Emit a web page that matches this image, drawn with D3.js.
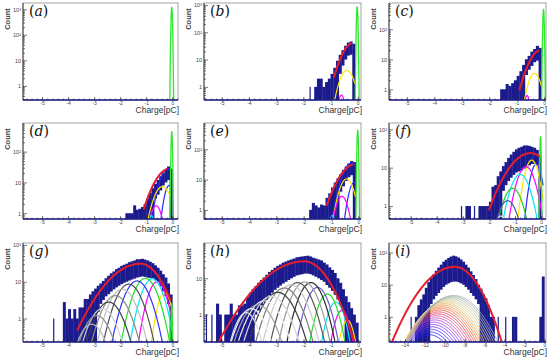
<!DOCTYPE html>
<html>
<head>
<meta charset="utf-8">
<script src="https://cdn.jsdelivr.net/npm/d3@7"></script>
<style>
  body { margin: 0; background: #fff; }
  svg { display: block; }
</style>
</head>
<body>
<div id="chart"></div>
<script>
// ---- data ----
const panelLetters = ["a", "b", "c", "d", "e", "f", "g", "h", "i"];

const xDomains = [[-5.73, 0.22], [-5.65, 0.12], [-5.65, 0.07], [-5.73, 0.22], [-5.65, 0.1],
                  [-5.83, 0.19], [-5.73, 0.22], [-5.64, 0.1], [-15.6, 0.17]];
const yDomains = [[0.28, 1760], [0.33, 1180], [0.44, 750], [0.65, 850], [0.5, 740],
                  [0.46, 146], [0.23, 113], [0.175, 94], [0.165, 198]];
const yLabelTicks = [[1, 10, 100, 1000], [1, 10, 100, 1000], [1, 10, 100], [1, 10, 100], [1, 10, 100],
                     [1, 10, 100], [1, 10, 100], [1, 10], [1, 10, 100]];
const xLabelTicks = [-5, -4, -3, -2, -1, 0];
const xLabelTicksWide = [-14, -12, -10, -8, -6, -4, -2, 0];

// histogram: first bin edge, bin width, upper / lower edge of the noisy band (counts)
const histStart = [0, -1.9, -1.7, -1.9, -1.9, -3.1, -4.7, -5.7, -13.5];
const binWidth = [0.1, 0.1, 0.1, 0.1, 0.1, 0.1, 0.1, 0.1, 0.25];

const hiA = [];
const loA = [];
const hiB = [0, 1, 0, 1, 2, 2, 1, 1.5, 2, 3, 5, 9, 15, 22, 32, 42, 46, 38];
const loB = [0, 0, 0, 0, 0, 0, 0, 0, 0, 0, 0, 0, 3, 6, 10, 14, 15, 0];
const hiC = [0, 1, 1, 1.5, 1.3, 1.6, 2, 2.8, 4, 6.5, 10, 13, 18, 22, 28, 24];
const loC = [0, 0, 0, 0, 0, 0, 0, 0, 0, 0, 3, 4.5, 6, 8, 9, 0];
const hiD = [0, 1, 1, 1, 1.8, 1.3, 1.4, 1.6, 2, 3, 4.5, 6.5, 9, 12, 16, 20, 26, 33, 28];
const loD = [0, 0, 0, 0, 0, 0, 0, 0, 0, 0, 0, 0, 3, 4, 5.5, 8, 10, 12, 0];
const hiE = [0, 1, 1.7, 1.4, 1.2, 1.5, 1.4, 2.5, 3.5, 5.5, 8, 11, 15, 21, 27, 34, 41, 38];
const loE = [0, 0, 0, 0, 0, 0, 0, 0, 0, 0, 0, 0, 4, 6, 9, 12, 14, 0];
const hiF = [1, 0, 1, 1, 0, 1, 0, 1, 1, 1, 1, 1.3, 3.2, 3.5, 6, 8, 11, 14, 18, 22, 26, 30, 33, 35, 38, 38,
             37, 35, 33, 29, 20];
const loF = [0, 0, 0, 0, 0, 0, 0, 0, 0, 0, 0, 0, 0, 0, 0, 0, 2.5, 3.5, 4.5, 5.5, 6.5, 7.5, 8, 8.5, 9.5,
             10.5, 11.5, 12.5, 12.5, 12, 0];
const hiG = [0, 1, 0, 0, 0, 2.8, 1, 1.8, 1, 1.8, 1, 2, 2, 3.4, 3.4, 4.5, 5.5, 6.5, 7.8, 9, 10.5, 12.5,
             14.5, 17, 19, 22, 24, 27, 29, 31, 34, 36, 38, 41, 41, 42, 40, 38, 35, 32, 28, 24, 20, 16, 13,
             9, 4.5];
const loG = [0, 0, 0, 0, 0, 0, 0, 0, 0, 0, 0, 0, 0, 0, 0, 0, 0, 0, 1.5, 2.5, 3.2, 4, 4.6, 5.4, 6.2, 7,
             7.8, 8.6, 9.4, 10, 10.8, 11.5, 12.2, 13, 13.5, 14, 13.5, 13, 12.5, 12.5, 11, 10, 7.5, 5.5,
             4, 2.5, 0];
const hiH = [0, 1, 0, 1, 0, 2, 1, 0, 1, 1, 2, 1, 1, 1.8, 1.8, 2, 3, 4, 5, 6, 7.5, 9, 10.5, 12.5, 15, 17,
             19.5, 22, 24, 27, 29, 31, 33, 35, 38, 39, 40, 41, 42, 40, 37, 35, 33, 31, 27, 24, 20, 17, 14,
             10, 7.5, 5, 3.2, 2.2, 1.5, 1, 0.6];
const loH = [0, 0, 0, 0, 0, 0, 0, 0, 0, 0, 0, 0, 0, 0, 0, 0, 0, 0, 0, 1, 1.3, 1.8, 2.2, 2.8, 3.4, 4, 4.8,
             5.5, 6.3, 7.2, 8, 9, 10, 11, 12, 12.5, 13, 13.5, 13.5, 13, 12, 11, 10, 9, 8, 6.5, 5.5, 4.5,
             3.5, 2.6, 1.8, 1.2, 0, 0, 0, 0, 0];
const hiI = [1, 0, 1, 2.3, 3.5, 5, 8, 12, 16, 21, 27, 34, 42, 52, 60, 68, 75, 80, 76, 70, 61, 52, 42, 34,
             26, 20, 15, 10, 7.5, 5, 3.8, 2.3, 1, 1, 0, 1, 0, 0, 1, 0, 0, 1, 1, 0, 0, 0, 0, 0, 0, 0, 0,
             0, 1, 18];
const loI = [0, 0, 0, 0, 0, 0, 0, 0, 2.5, 3.5, 4.5, 5.5, 7, 8.5, 10, 11, 12, 12.5, 12.5, 12, 11, 10, 8.5,
             7, 5.5, 4.5, 3.5, 2.5, 0, 0, 0, 0, 0, 0, 0, 0, 0, 0, 0, 0, 0, 0, 0, 0, 0, 0, 0, 0, 0, 0, 0,
             0, 0, 0];
const histHi = [hiA, hiB, hiC, hiD, hiE, hiF, hiG, hiH, hiI];
const histLo = [loA, loB, loC, loD, loE, loF, loG, loH, loI];

// pedestal peak (green) amplitude per panel
const pedAmp = [1200, 850, 460, 445, 430, 64, 2.5, 0, 0];
const pedMean = -0.02;
const pedSigma = 0.018;

// total fit (red): [amplitude, mean, sigma left, sigma right, from, to]
const redFits = [null,
  [41, -0.15, 0.30, 0.30, -0.88, -0.22],
  [20.6, -0.1, 0.32, 0.32, -0.9, -0.18],
  [28, -0.1, 0.405, 0.405, -1.1, -0.2],
  [32.6, -0.1, 0.42, 0.42, -1.16, -0.18],
  [24, -0.4, 0.61, 0.55, -2.0, -0.05],
  [31, -1.22, 0.84, 0.54, -3.65, -0.06],
  [29.4, -1.97, 0.98, 0.57, -5.15, -0.15],
  [36, -9.0, 1.92, 1.44, -15.4, -4.2]];

// n-photoelectron components: [mean, sigma, amplitude], drawn up to compEnd
const compEnd = [0, -0.1, -0.08, -0.07, -0.1, 0.08, 0.02, 0.02, 0.17];
const compA = [];
const compB = [[-0.4, 0.2, 4], [-0.6, 0.1, 0.5]];
const compC = [[-0.35, 0.18, 3.4], [-0.62, 0.08, 0.62]];
const compD = [[-0.18, 0.22, 28], [-0.12, 0.14, 8], [-0.38, 0.25, 7.3], [-0.62, 0.17, 1.75], [-0.8, 0.08, 0.85]];
const compE = [[-0.25, 0.24, 35], [-0.15, 0.15, 8], [-0.43, 0.2, 10.5], [-0.6, 0.17, 2.8], [-0.95, 0.1, 0.65]];
const compF = [[-0.19, 0.17, 12.2], [-0.36, 0.2, 15.8], [-0.58, 0.26, 10.6], [-0.8, 0.28, 6.7],
               [-1.09, 0.28, 2.9], [-1.28, 0.28, 1.38], [-1.54, 0.2, 0.55]];
const compG = [[-0.3, 0.2, 5], [-0.58, 0.26, 10], [-0.77, 0.3, 12], [-1.03, 0.33, 12.3], [-1.35, 0.35, 10.5],
               [-1.67, 0.36, 8.6], [-1.92, 0.37, 6.3], [-2.18, 0.38, 4.2], [-2.44, 0.38, 2.8],
               [-2.68, 0.37, 1.85], [-2.9, 0.37, 1.2], [-3.1, 0.36, 0.7]];
const compH = [[-0.4, 0.18, 0.7], [-0.6, 0.2, 1.3], [-0.82, 0.23, 2.2], [-1.13, 0.26, 3.7], [-1.49, 0.29, 5.6],
               [-1.73, 0.32, 7.6], [-1.97, 0.34, 7.9], [-2.22, 0.36, 7.6], [-2.46, 0.38, 6.6],
               [-2.7, 0.4, 5.4], [-2.94, 0.42, 4.1], [-3.18, 0.42, 3.2], [-3.43, 0.42, 2.4],
               [-3.67, 0.4, 1.86], [-3.91, 0.36, 1.45], [-4.1, 0.3, 1.13]];
const compI = [[-11.6, 1.45, 0.28], [-11.5, 1.47, 0.34], [-11.4, 1.49, 0.41], [-11.3, 1.51, 0.49],
               [-11.2, 1.53, 0.58], [-11.1, 1.55, 0.68], [-11.0, 1.57, 0.8], [-10.9, 1.58, 0.93],
               [-10.8, 1.6, 1.08], [-10.7, 1.61, 1.24], [-10.6, 1.62, 1.42], [-10.5, 1.63, 1.62],
               [-10.4, 1.64, 1.84], [-10.3, 1.65, 2.07], [-10.2, 1.66, 2.32], [-10.1, 1.67, 2.58],
               [-10.0, 1.68, 2.85], [-9.85, 1.69, 3.13], [-9.7, 1.7, 3.42], [-9.55, 1.7, 3.72],
               [-9.4, 1.71, 4.02], [-9.25, 1.71, 4.32], [-9.1, 1.72, 4.6]];
const components = [compA, compB, compC, compD, compE, compF, compG, compH, compI];

// ---- styles ----
const navy = "#1b1b8e";
const pedColor = "#2ee82e";
const redColor = "#e41e2c";
const colB = ["#ffe600", "#ff00ff"];
const colD = ["#2a2aff", "#2a2aff", "#ffe600", "#ff00ff", "#00e0ff"];
const colF = ["#2a2aff", "#ffe600", "#ff00ff", "#00e8ff", "#22cc22", "#5050a8", "#e8e8f0"];
const colG = ["#ffe600", "#ff00ff", "#00e8ff", "#22dd22", "#3030ff", "#505050", "#c0c0c0", "#8a8a8a",
              "#404040", "#d0d0d0", "#909090", "#b8b8b8"];
const colH = ["#ffe600", "#ff00ff", "#00e8ff", "#22dd22", "#6a5acd", "#2a2a2a", "#9a9a9a", "#555555",
              "#c8c8c8", "#7a7a7a", "#3a3a3a", "#d8d8d8", "#f0f0f0", "#a0a0a0", "#f4f4f4", "#e0e0e0"];
const colI = ["#2020ff", "#3a2aff", "#5530ff", "#7035ff", "#8a3cff", "#a040f0", "#b848d8", "#c850b8",
              "#d85098", "#e04878", "#e84858", "#ec5848", "#f07040", "#f08848", "#eca058", "#e8b468",
              "#e4c47c", "#dccc90", "#d0cca0", "#c4c8a8", "#b8c0ac", "#aab8b0", "#9cb0b4"];
const compColors = [[], colB, colB, colD, colD, colF, colG, colH, colI];

// panel geometry
const colLeft = [23, 204, 389];
const colRight = [178, 361, 546];
const rowTop = [3, 123, 243];
const rowBottom = [100, 219, 342];

const svg = d3.select("#chart").append("svg")
    .attr("width", 550)
    .attr("height", 361)
    .style("font-family", "'Liberation Sans', Arial, sans-serif");

const gauss = (v, c) => c[2] * Math.exp(-((v - c[0]) ** 2) / (2 * c[1] * c[1]));
const splitGauss = (v, p) => {
    const s = v < p[1] ? p[2] : p[3];
    return p[0] * Math.exp(-((v - p[1]) ** 2) / (2 * s * s));
};
const supers = { 1: "", 2: "\u00b2", 3: "\u00b3" };
const logLabel = d => d === 1 ? "1" : "10" + supers[Math.round(Math.log10(d))];

function drawPanel(k) {
    const col = k % 3, row = Math.floor(k / 3);
    const L = colLeft[col], R = colRight[col], T = rowTop[row], B = rowBottom[row];
    const [ymin, ymax] = yDomains[k];

    const x = d3.scaleLinear().domain(xDomains[k]).range([L, R]);
    const y = d3.scaleLog().domain(yDomains[k]).range([B, T]);
    const yv = v => y(Math.max(v, 1e-4));

    const g = svg.append("g");
    g.append("clipPath").attr("id", "clip" + k)
        .append("rect").attr("x", L).attr("y", T).attr("width", R - L).attr("height", B - T);
    const plot = g.append("g").attr("clip-path", `url(#clip${k})`);

    // histogram band; lone tail bins are drawn as thin spikes
    const bw = binWidth[k];
    const his = histHi[k];
    const bins = his.map((h, i) => ({
            x0: histStart[k] + i * bw, hi: h, lo: histLo[k][i],
            lone: !(his[i - 1] > 0) && !(his[i + 1] > 0)
        }))
        .filter(d => d.hi > ymin);
    plot.selectAll("rect.bin").data(bins).join("rect")
        .attr("class", "bin")
        .attr("x", d => d.lone ? x(d.x0 + bw / 2) - 0.6 : x(d.x0))
        .attr("width", d => d.lone ? 1.2 : x(d.x0 + bw) - x(d.x0) + 0.35)
        .attr("y", d => y(d.hi))
        .attr("height", d => (d.lo > ymin ? y(d.lo) : B) - y(d.hi))
        .attr("fill", navy);

    // components
    const [d0, d1] = xDomains[k];
    const samples = d3.range(d0, compEnd[k], (d1 - d0) / 700).concat([compEnd[k]]);
    components[k].forEach((c, j) => {
        plot.append("path")
            .datum(samples)
            .attr("d", d3.line().x(v => x(v)).y(v => yv(gauss(v, c))))
            .attr("fill", "none")
            .attr("stroke", compColors[k][j])
            .attr("stroke-width", k === 8 ? 1 : 1.2);
    });

    // pedestal
    if (pedAmp[k] > 0) {
        const pv = d3.range(-0.12, 0.08, 0.001);
        plot.append("path")
            .datum(pv)
            .attr("d", d3.line().x(v => x(v)).y(v => yv(gauss(v, [pedMean, pedSigma, pedAmp[k]]))))
            .attr("fill", "none")
            .attr("stroke", pedColor)
            .attr("stroke-width", 1.3);
    }

    // total fit
    const rf = redFits[k];
    if (rf) {
        const rv = d3.range(rf[4], rf[5], (rf[5] - rf[4]) / 300).concat([rf[5]]);
        plot.append("path")
            .datum(rv)
            .attr("d", d3.line().x(v => x(v)).y(v => yv(splitGauss(v, rf))))
            .attr("fill", "none")
            .attr("stroke", redColor)
            .attr("stroke-width", 2);
    }

    // frame
    g.append("rect").attr("x", L).attr("y", T).attr("width", R - L).attr("height", B - T)
        .attr("fill", "none").attr("stroke", "#666").attr("stroke-width", 0.6);
    g.append("line").attr("x1", L).attr("x2", L).attr("y1", T).attr("y2", B)
        .attr("stroke", "#222").attr("stroke-width", 0.8);
    g.append("line").attr("x1", L).attr("x2", R).attr("y1", B).attr("y2", B)
        .attr("stroke", navy).attr("stroke-width", 1.3);

    // y ticks (inside) and labels
    const lo = Math.floor(Math.log10(ymin)), hi = Math.ceil(Math.log10(ymax));
    const majors = [], minors = [];
    for (let e = lo; e <= hi; e++) {
        const b = Math.pow(10, e);
        if (b >= ymin && b <= ymax) majors.push(b);
        for (let m = 2; m <= 9; m++) if (m * b >= ymin && m * b <= ymax) minors.push(m * b);
    }
    const yTicks = (vals, size) => g.append("g")
        .attr("transform", `translate(${L},0)`)
        .call(d3.axisRight(y).tickValues(vals).tickSize(size).tickFormat(""))
        .call(a => a.select(".domain").remove())
        .call(a => a.selectAll("line").attr("stroke", "#222").attr("stroke-width", 0.6));
    yTicks(majors, 4);
    yTicks(minors, 2);
    g.append("g")
        .attr("transform", `translate(${L},0)`)
        .call(d3.axisLeft(y).tickValues(yLabelTicks[k]).tickSize(0).tickPadding(2).tickFormat(logLabel))
        .call(a => a.select(".domain").remove())
        .call(a => a.selectAll("text").attr("font-size", 5.5).attr("fill", "#444")
            .attr("font-family", "'Liberation Sans', Arial, sans-serif"));

    // x ticks (inside) and labels
    const labX = k === 8 ? xLabelTicksWide : xLabelTicks;
    const minorStep = k === 8 ? 0.5 : 0.2;
    const xMinors = d3.range(Math.ceil(d0 / minorStep) * minorStep, d1, minorStep);
    const xTicks = (vals, size) => g.append("g")
        .attr("transform", `translate(0,${B})`)
        .call(d3.axisTop(x).tickValues(vals).tickSize(size).tickFormat(""))
        .call(a => a.select(".domain").remove())
        .call(a => a.selectAll("line").attr("stroke", "#222").attr("stroke-width", 0.6));
    xTicks(labX, 3);
    xTicks(xMinors, 1.5);
    g.append("g")
        .attr("transform", `translate(0,${B})`)
        .call(d3.axisBottom(x).tickValues(labX).tickSize(0).tickPadding(1.5).tickFormat(d => String(d)))
        .call(a => a.select(".domain").remove())
        .call(a => a.selectAll("text").attr("font-size", 5).attr("fill", "#444")
            .attr("font-family", "'Liberation Sans', Arial, sans-serif"));

    // titles
    g.append("text")
        .attr("transform", `translate(${L - 16},${T + 16}) rotate(-90)`)
        .attr("text-anchor", "middle")
        .attr("dominant-baseline", "central")
        .attr("font-size", 7.5)
        .attr("font-weight", "bold")
        .attr("fill", "#444")
        .text("Count");
    g.append("text")
        .attr("x", R + 1)
        .attr("y", B + 13)
        .attr("text-anchor", "end")
        .attr("font-size", 8.5)
        .attr("fill", "#333")
        .text("Charge[pC]");

    const lab = g.append("text")
        .attr("x", L + 6)
        .attr("y", T + 13)
        .attr("font-family", "'DejaVu Serif', serif")
        .attr("font-size", 14)
        .attr("fill", "#111");
    lab.append("tspan").text("(");
    lab.append("tspan").attr("font-style", "italic").text(panelLetters[k]);
    lab.append("tspan").text(")");
}

panelLetters.forEach((_, k) => drawPanel(k));
</script>
</body>
</html>
